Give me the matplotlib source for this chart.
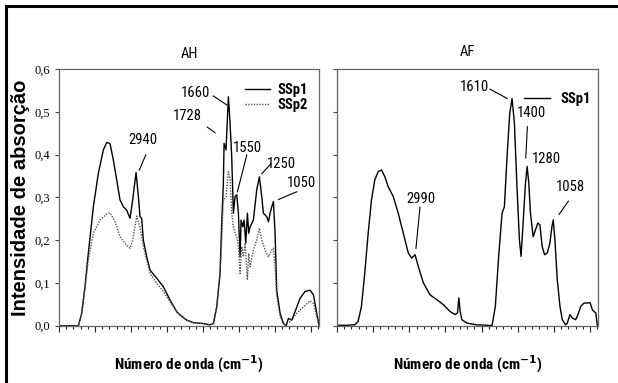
import numpy as np
import matplotlib
matplotlib.use("Agg")
import matplotlib.pyplot as plt
from matplotlib.ticker import MultipleLocator, FixedLocator
from matplotlib.lines import Line2D
from matplotlib import font_manager

# ---------------- data ----------------
# AH panel, SSp1 (solid)
ah1_wn = [4000, 3731, 3685, 3639, 3593, 3523, 3454, 3384, 3338, 3292, 3245, 3199, 3153,
          3106, 3060, 3014, 2977, 2930, 2898, 2875, 2852, 2829, 2782, 2736, 2643, 2551,
          2458, 2366, 2319, 2227, 2134, 1995, 1903, 1856, 1810, 1764, 1741, 1718, 1708,
          1681, 1648, 1625, 1602, 1579, 1555, 1532, 1509, 1486, 1472, 1449, 1430, 1407,
          1384, 1366, 1347, 1301, 1255, 1218, 1185, 1162, 1116, 1092, 1069, 1046, 1023,
          1000, 977, 930, 884, 847, 815, 768, 722, 653, 583, 514, 467, 421, 389]
ah1_v = [0.0, 0.0, 0.029, 0.091, 0.169, 0.278, 0.356, 0.411, 0.428, 0.426, 0.387, 0.341, 0.294,
         0.278, 0.270, 0.251, 0.294, 0.358, 0.302, 0.255, 0.251, 0.200, 0.161, 0.130, 0.111, 0.091,
         0.060, 0.033, 0.025, 0.013, 0.007, 0.005, 0.002, 0.005, 0.044, 0.122, 0.239, 0.333, 0.426,
         0.411, 0.535, 0.473, 0.395, 0.263, 0.302, 0.306, 0.263, 0.161, 0.247, 0.231, 0.247, 0.193,
         0.263, 0.216, 0.231, 0.247, 0.317, 0.348, 0.302, 0.263, 0.255, 0.243, 0.263, 0.278, 0.290,
         0.216, 0.083, 0.029, 0.005, 0.0, 0.017, 0.013, 0.033, 0.064, 0.080, 0.083, 0.072, 0.029, 0.0]

# AH panel, SSp2 (dotted)
ah2_wn = [4000, 3731, 3685, 3639, 3593, 3523, 3431, 3338, 3292, 3222, 3153, 3083, 3014,
          2977, 2921, 2875, 2829, 2736, 2643, 2551, 2458, 2366, 2319, 2227, 2134, 1995,
          1903, 1856, 1810, 1764, 1741, 1718, 1681, 1648, 1625, 1602, 1579, 1555, 1532,
          1509, 1486, 1463, 1440, 1417, 1384, 1366, 1347, 1301, 1255, 1218, 1185, 1139,
          1092, 1046, 1023, 1000, 977, 930, 861, 792, 699, 607, 514, 467, 421, 389]
ah2_v = [0.0, 0.0, 0.029, 0.088, 0.154, 0.216, 0.247, 0.261, 0.264, 0.243, 0.208, 0.192, 0.181,
         0.200, 0.256, 0.230, 0.185, 0.122, 0.099, 0.080, 0.056, 0.033, 0.025, 0.013, 0.007, 0.005,
         0.002, 0.005, 0.044, 0.122, 0.200, 0.294, 0.302, 0.360, 0.341, 0.263, 0.231, 0.216, 0.208,
         0.185, 0.122, 0.185, 0.161, 0.193, 0.107, 0.169, 0.138, 0.177, 0.200, 0.228, 0.200, 0.177,
         0.161, 0.177, 0.181, 0.138, 0.068, 0.021, 0.002, 0.009, 0.029, 0.044, 0.058, 0.052, 0.021, 0.0]

# AF panel, SSp1 (solid)
af1_wn = [4000, 3870, 3755, 3708, 3662, 3616, 3569, 3523, 3477, 3431, 3384, 3338, 3292,
          3222, 3153, 3083, 3014, 2968, 2921, 2875, 2805, 2713, 2620, 2528, 2435, 2366,
          2333, 2315, 2296, 2273, 2204, 2065, 1926, 1856, 1810, 1764, 1717, 1685, 1648,
          1611, 1579, 1546, 1509, 1477, 1454, 1426, 1393, 1370, 1347, 1324, 1287, 1255,
          1222, 1194, 1162, 1129, 1092, 1055, 1027, 1009, 986, 953, 916, 884, 838, 815,
          778, 745, 699, 667, 629, 583, 537, 500, 467, 444, 421, 398, 375]
af1_v = [0.001, 0.001, 0.002, 0.010, 0.045, 0.123, 0.216, 0.294, 0.341, 0.360, 0.364, 0.348, 0.325,
         0.302, 0.263, 0.216, 0.170, 0.158, 0.166, 0.138, 0.100, 0.072, 0.061, 0.049, 0.033, 0.026,
         0.030, 0.065, 0.033, 0.014, 0.006, 0.002, 0.001, 0.0, 0.045, 0.162, 0.263, 0.278, 0.395,
         0.496, 0.531, 0.473, 0.317, 0.201, 0.162, 0.240, 0.333, 0.372, 0.333, 0.263, 0.208, 0.224,
         0.240, 0.236, 0.185, 0.166, 0.170, 0.193, 0.232, 0.247, 0.201, 0.107, 0.045, 0.014, 0.002, 0.006,
         0.026, 0.018, 0.014, 0.026, 0.045, 0.053, 0.053, 0.054, 0.037, 0.033, 0.030, 0.0, 0.0]

y_ticks = [0.0, 0.1, 0.2, 0.3, 0.4, 0.5, 0.6]
y_tick_labels = ["0,0", "0,1", "0,2", "0,3", "0,4", "0,5", "0,6"]

# annotations: (label, text_wn, text_v, line_from_wn, line_from_v, line_to_wn, line_to_v)
ah_notes = [("2940", 2838, 0.434, 2796, 0.399, 2885, 0.364),
            ("1660", 2111, 0.543, 1857, 0.537, 1671, 0.516),
            ("1728", 2218, 0.489, 1940, 0.464, 1833, 0.451),
            ("1550", 1379, 0.415, 1393, 0.399, 1523, 0.313),
            ("1250", 907, 0.378, 1060, 0.378, 1185, 0.355),
            ("1050", 639, 0.334, 699, 0.313, 954, 0.295)]
af_notes = [("1610", 2105, 0.557, 1884, 0.553, 1645, 0.531),
            ("1400", 1307, 0.496, 1367, 0.465, 1389, 0.392),
            ("1280", 1100, 0.390, None, None, None, None),
            ("1058", 777, 0.324, 800, 0.291, 929, 0.260),
            ("2990", 2842, 0.296, 2852, 0.277, 2908, 0.181)]

# ---------------- fonts ----------------
available = {f.name for f in font_manager.fontManager.ttflist}
narrow_candidates = ['Liberation Sans Narrow', 'Roboto Condensed', 'Open Sans Condensed']
narrow = [n for n in narrow_candidates if n in available]
NARROW = narrow[:1] + ['Liberation Sans', 'DejaVu Sans']
is_narrow = bool(narrow)
ann_size = 10.5 if is_narrow else 8.5
xl_size = 11 if is_narrow else 9.0
SERIF = ['Liberation Serif', 'DejaVu Serif']

# ---------------- figure ----------------
W, H = 618, 383
fig = plt.figure(figsize=(W / 100, H / 100), dpi=100)

ax1 = fig.add_axes([59 / W, 1 - 325.7 / H, 260 / W, 256.7 / H])
ax2 = fig.add_axes([337 / W, 1 - 325.7 / H, 261 / W, 256.7 / H])

spine_col = '#666666'
for ax in (ax1, ax2):
    ax.set_xlim(4000, 390)
    ax.set_ylim(0, 0.6)
    for s in ax.spines.values():
        s.set_color(spine_col)
        s.set_linewidth(0.9)
    ax.xaxis.set_major_locator(MultipleLocator(500))
    ax.xaxis.set_minor_locator(MultipleLocator(100))
    ax.yaxis.set_major_locator(FixedLocator(y_ticks))
    ax.tick_params(axis='x', which='major', direction='out', length=4, width=0.8,
                   color='#222222', labelbottom=False)
    ax.tick_params(axis='x', which='minor', direction='out', length=2, width=0.8,
                   color='#222222')
    ax.tick_params(axis='y', which='major', direction='out', length=3, width=0.8,
                   color='#444444')
    ax.set_xlabel("Número de onda (cm$^{\\mathbf{-1}}$)", family=NARROW, fontsize=xl_size,
                  fontweight='bold', labelpad=15)

ax1.set_yticklabels(y_tick_labels, family=SERIF, fontsize=9)
ax2.set_yticklabels([])

ax1.plot(ah1_wn, ah1_v, color='black', lw=1.0, label='SSp1')
ax1.plot(ah2_wn, ah2_v, color='#555555', lw=1.0, ls=(0, (1, 1)), label='SSp2')
ax2.plot(af1_wn, af1_v, color='black', lw=1.0, label='SSp1')

for ax, notes in ((ax1, ah_notes), (ax2, af_notes)):
    for lab, tx, ty, x0, y0, x1, y1 in notes:
        ax.text(tx, ty, lab, ha='center', va='center', family=NARROW, fontsize=ann_size)
        if x0 is not None:
            ax.plot([x0, x1], [y0, y1], color='black', lw=0.8)

ax1.legend(loc='upper left', bbox_to_anchor=(0.715, 0.945), frameon=False,
           prop={'family': NARROW, 'weight': 'bold', 'size': ann_size},
           handlelength=1.75, handletextpad=0.5, labelspacing=0.05,
           borderpad=0, borderaxespad=0)
ax2.legend(loc='upper left', bbox_to_anchor=(0.716, 0.91), frameon=False,
           prop={'family': NARROW, 'weight': 'bold', 'size': ann_size},
           handlelength=1.8, handletextpad=0.7, borderpad=0, borderaxespad=0)

ax1.set_title("AH", family=NARROW, fontsize=ann_size, pad=8)
ax2.set_title("AF", family=NARROW, fontsize=ann_size, pad=9)

fig.text(21 / W, 1 - 198 / H, "Intensidade de absorção", rotation=90, ha='center',
         va='center', fontsize=14.5, fontweight='bold', family=['Liberation Sans', 'DejaVu Sans'])

# outer frame (top and left edges)
fig.add_artist(Line2D([5.5 / W, 1.0], [1 - 5.5 / H, 1 - 5.5 / H], color='black', lw=2.2,
                      transform=fig.transFigure))
fig.add_artist(Line2D([5.5 / W, 5.5 / W], [0.0, 1 - 5.5 / H], color='black', lw=2.2,
                      transform=fig.transFigure))

fig.savefig("out.png", dpi=100)
